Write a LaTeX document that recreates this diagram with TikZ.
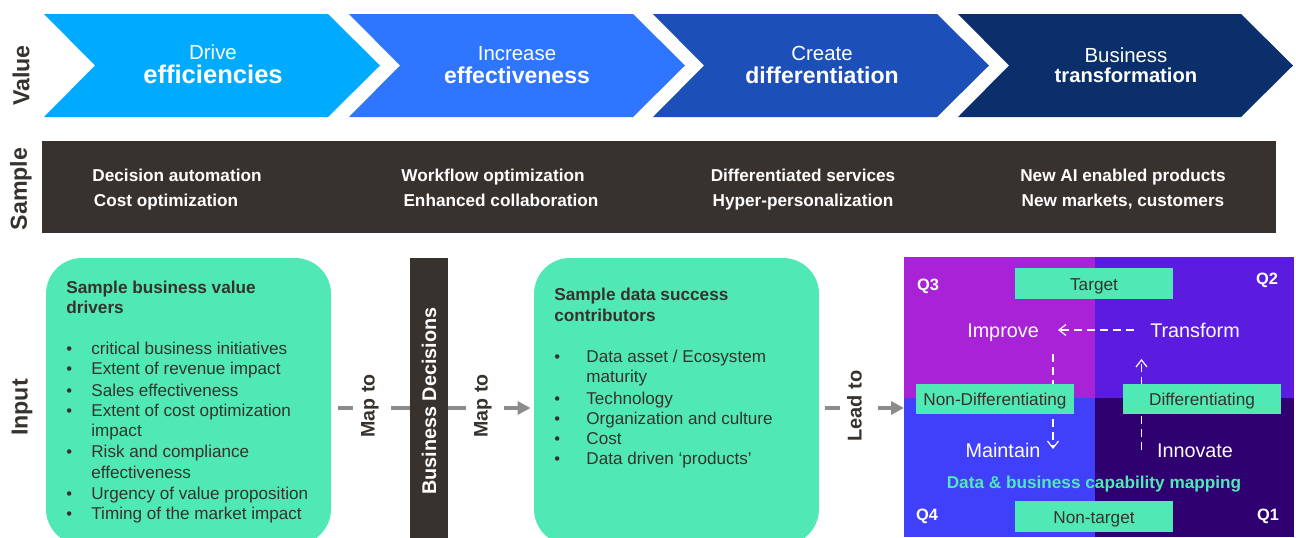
\documentclass[tikz,border=0pt]{standalone}
\usepackage{fontspec}
\setmainfont{Liberation Sans}
\usetikzlibrary{arrows.meta}
\definecolor{dark}{HTML}{38322E}
\definecolor{mint}{HTML}{50E8B4}
\definecolor{flowgray}{HTML}{8C8C8C}
\definecolor{chA}{HTML}{00AAFF}
\definecolor{chB}{HTML}{2E75FF}
\definecolor{chC}{HTML}{1C50B8}
\definecolor{chD}{HTML}{0A2F6B}
\definecolor{qA}{HTML}{A822D6}
\definecolor{qB}{HTML}{5B1CE0}
\definecolor{qC}{HTML}{4040FA}
\definecolor{qD}{HTML}{2E0070}
\tikzset{
  x=0.5pt,y=-0.5pt,
  side/.style={rotate=90,font=\fontsize{11.6}{13}\selectfont\bfseries,text=dark,inner sep=0pt},
  chthin/.style={anchor=base,inner sep=0pt,text=white,font=\fontsize{10.2}{12}\selectfont},
  chbold/.style={anchor=base,inner sep=0pt,text=white,font=\fontsize{12.8}{15}\selectfont\bfseries},
  samp/.style={anchor=base,inner sep=0pt,text=white,font=\fontsize{8.6}{10}\selectfont\bfseries},
  green/.style={fill=mint,draw=none,rounded corners=18pt,minimum width=142.5pt,minimum height=143.5pt,inner sep=0pt},
  ttl/.style={anchor=base west,inner sep=0pt,text=dark,font=\fontsize{8.6}{10}\selectfont\bfseries},
  itm/.style={anchor=base west,inner sep=0pt,text=dark,font=\fontsize{8.55}{10}\selectfont},
  blt/.style={anchor=base west,inner sep=0pt,text=dark,font=\fontsize{8.3}{10}\selectfont},
  maplab/.style={rotate=90,anchor=base,fill=white,inner xsep=0pt,inner ysep=0pt,text height=10.75pt,text depth=8.25pt,text=dark,font=\fontsize{9.8}{11}\selectfont\bfseries},
  flow/.style={draw=flowgray,line width=2.2pt,-{Triangle[length=6.5pt,width=6.5pt]}},
  flowplain/.style={draw=flowgray,line width=2.2pt},
  tag/.style={fill=mint,minimum width=79pt,minimum height=15.3pt,inner sep=0pt,text height=7pt,text depth=0.5pt,text=dark,font=\fontsize{8.6}{10}\selectfont},
  qlab/.style={anchor=center,inner sep=0pt,text=white,font=\fontsize{8.2}{10}\selectfont\bfseries},
  act/.style={anchor=base,inner sep=0pt,text=white,font=\fontsize{9.9}{12}\selectfont},
  wdash/.style={draw=white,line width=0.6pt,dash pattern=on 4pt off 2.5pt,-{Straight Barb[length=3.5pt,width=5.5pt]}}
}
\begin{document}
\begin{tikzpicture}
\useasboundingbox (0,0) rectangle (1296,537);
\begin{scope}
\clip (0,0) rectangle (1296,537);
% chevrons
\fill[chA] (44,14)--(328,14)--(380,65.5)--(328,117)--(44,117)--(95,65.5)--cycle;
\fill[chB] (349,14)--(633,14)--(685,65.5)--(633,117)--(349,117)--(400,65.5)--cycle;
\fill[chC] (653,14)--(937,14)--(989,65.5)--(937,117)--(653,117)--(704,65.5)--cycle;
\fill[chD] (958,14)--(1241,14)--(1293,65.5)--(1241,117)--(958,117)--(1009,65.5)--cycle;
\node[chthin] (t1a) at (213,59) {Drive};
\node[chbold] (t1b) at (213,83) {efficiencies};
\node[chthin] (t2a) at (517,60) {Increase};
\node[chbold,font=\fontsize{11.5}{14}\selectfont\bfseries] (t2b) at (517,83) {effectiveness};
\node[chthin] (t3a) at (822,60) {Create};
\node[chbold,font=\fontsize{11.5}{14}\selectfont\bfseries] (t3b) at (822,83) {differentiation};
\node[chthin] (t4a) at (1126,62) {Business};
\node[chbold,font=\fontsize{10.1}{12}\selectfont\bfseries] (t4b) at (1126,82) {transformation};
% side labels
\node[side] (sv) at (21,75.5) {Value};
\node[side] (ss) at (21,189) {Sample};
\node[side] (si) at (22,407.5) {Input};
% sample band
\fill[dark] (42,141) rectangle (1276,233);
\node[samp] (s1a) at (177,181) {Decision automation};
\node[samp] (s1b) at (166,206) {Cost optimization};
\node[samp] (s2a) at (493,181) {Workflow optimization};
\node[samp] (s2b) at (501,206) {Enhanced collaboration};
\node[samp] (s3a) at (803,181) {Differentiated services};
\node[samp] (s3b) at (803,206) {Hyper-personalization};
\node[samp] (s4a) at (1123,181) {New AI enabled products};
\node[samp] (s4b) at (1123,206) {New markets, customers};
% green boxes
\node[green] (drivers) at (188.5,401.5) {};
\node[green] (contrib) at (676.5,401.5) {};
\node[fill=dark,minimum width=19pt,minimum height=141pt,inner sep=0pt] (bar) at (429,398.5) {};
\node[rotate=90,inner sep=0pt,text=white,font=\fontsize{9.9}{12}\selectfont\bfseries] (bartxt) at (429,401) {Business Decisions};
\coordinate (midy) at (0,408);
% connectors
\draw[flowplain,shorten <=3.5pt] (drivers.east |- midy) -- (bar.west |- midy);
\draw[flow,shorten >=1.5pt] (bar.east |- midy) -- (contrib.west |- midy);
\coordinate (qleft) at (904,408);
\draw[flow,shorten <=3pt] (contrib.east |- midy) -- (qleft);
\node[maplab] (m1) at (374.5,406) {Map to};
\node[maplab] (m2) at (487.5,406) {Map to};
\node[maplab,font=\fontsize{10}{11}\selectfont\bfseries] (m3) at (861.5,406) {Lead to};
% driver text
\node[ttl] (d0) at (66,293) {Sample business value};
\node[ttl] (d00) at (66,313) {drivers};
\foreach \yy in {354,374,396,416,457,499,519}{
  \node[blt] at (66,\yy) {•};
}
\foreach \yy/\tx in {354/critical business initiatives,374/Extent of revenue impact,396/Sales effectiveness,416/Extent of cost optimization,436/impact,457/Risk and compliance,478/effectiveness,499/Urgency of value proposition,519/Timing of the market impact}{
  \node[itm] at (91,\yy) {\tx};
}
% contributor text
\node[ttl] (c0) at (554,300) {Sample data success};
\node[ttl] (c00) at (554,321) {contributors};
\foreach \yy in {362,404,424,444,464}{
  \node[blt] at (554,\yy) {•};
}
\foreach \yy/\tx in {362/{Data asset / Ecosystem},382/maturity,404/Technology,424/Organization and culture,444/Cost,464/Data driven ‘products’}{
  \node[itm] at (586,\yy) {\tx};
}
% quadrants
\fill[qA] (904,257) rectangle (1095,398);
\fill[qB] (1095,257) rectangle (1294,398);
\fill[qC] (904,398) rectangle (1095,537);
\fill[qD] (1095,398) rectangle (1294,537);
\node[qlab] (q3) at (928,286) {Q3};
\node[qlab] (q2) at (1267,280) {Q2};
\node[qlab] (q4) at (927,516) {Q4};
\node[qlab] (q1) at (1268,516) {Q1};
\node[act] (improve) at (1003,337) {Improve};
\node[act] (transform) at (1195,337) {Transform};
\node[act] (maintain) at (1003,457) {Maintain};
\node[act] (innovate) at (1195,457) {Innovate};
\coordinate (a1s) at (1134,330);
\coordinate (a1e) at (1058,330);
\coordinate (a2s) at (1053,354);
\coordinate (a2e) at (1053,449);
\coordinate (a3s) at (1141.5,450);
\coordinate (a3e) at (1141.5,359);
\draw[wdash] (a1s) -- (a1e);
\draw[wdash] (a2s) -- (a2e);
\draw[wdash] (a3s) -- (a3e);
\node[tag] (target) at (1094,283.5) {Target};
\node[tag] (nondiff) at (995,399) {Non-Differentiating};
\node[tag] (diff) at (1202,399) {Differentiating};
\node[tag] (nontarget) at (1094,516.5) {Non-target};
\node[anchor=base,inner sep=0pt,text=mint,font=\fontsize{8.6}{10}\selectfont\bfseries] (cap) at (1094,488) {Data \& business capability mapping};
\end{scope}
\end{tikzpicture}
\end{document}
